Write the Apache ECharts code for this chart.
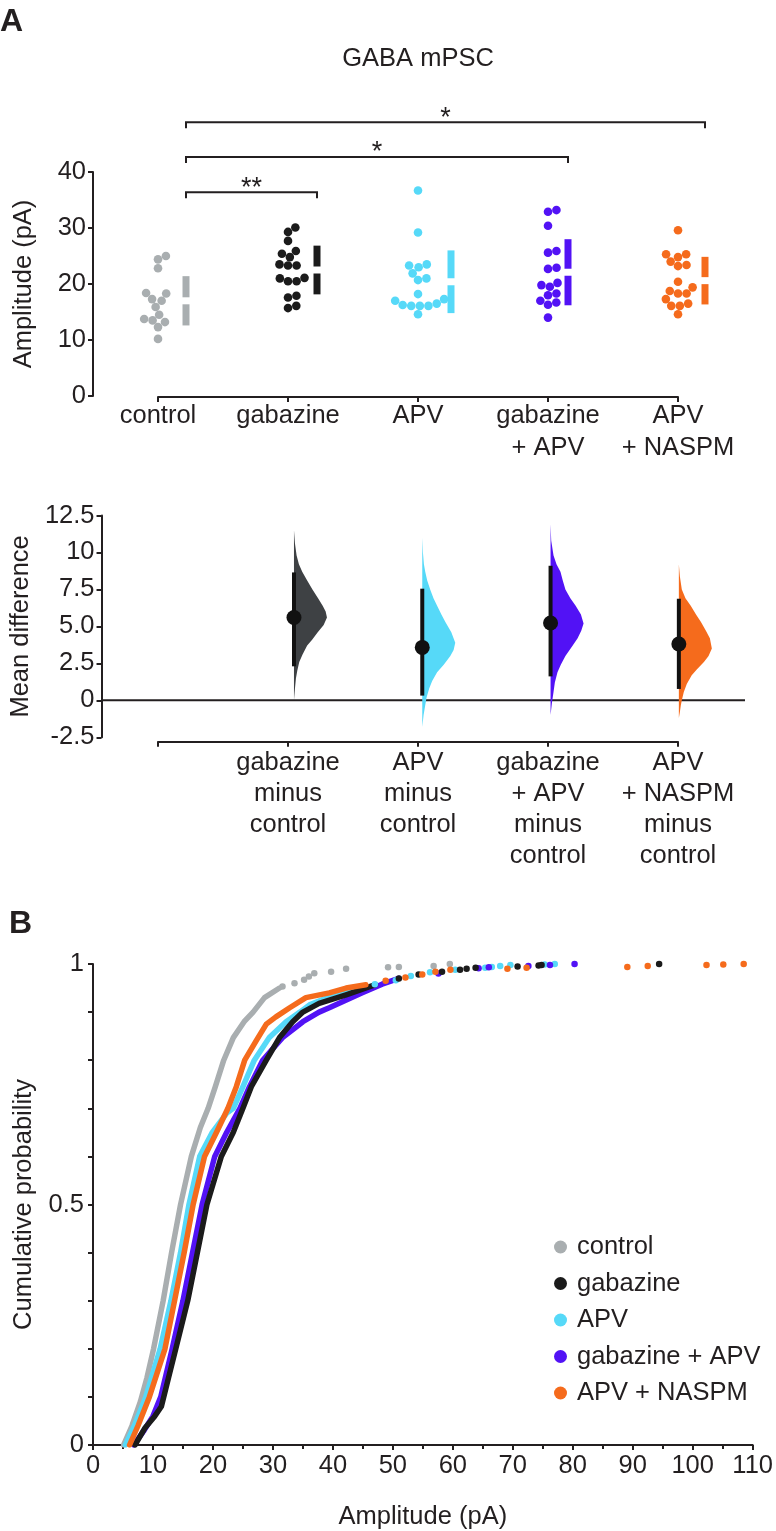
<!DOCTYPE html>
<html><head><meta charset="utf-8">
<script src="https://cdn.jsdelivr.net/npm/echarts@6/dist/echarts.min.js"></script>
<style>html,body{margin:0;padding:0;background:#fff}#c{width:776px;height:1531px}</style>
</head><body><div id="c"></div>
<script>
// ---------------- DATA ----------------
const groups = ['control','gabazine','APV','gabazine + APV','APV + NASPM'];
const groupAxisLabels = ['control','gabazine','APV','gabazine\n+ APV','APV\n+ NASPM'];
const diffAxisLabels = ['','gabazine\nminus\ncontrol','APV\nminus\ncontrol','gabazine\n+ APV\nminus\ncontrol','APV\n+ NASPM\nminus\ncontrol'];

// Panel A: mPSC amplitude per cell (pA)
const ampControl   = [25.0,24.4,22.8,18.3,18.4,17.0,17.3,15.9,14.5,13.2,13.5,13.75,12.3,10.2];
const ampGabazine  = [30.1,29.3,27.7,25.4,25.9,24.8,23.3,23.3,23.5,20.5,20.5,21.0,21.1,17.9,17.6,16.1,15.7];
const ampAPV       = [36.7,29.2,23.3,23.0,23.5,21.9,21.0,20.7,18.2,17.3,16.5,16.1,16.1,16.1,16.25,17.0,14.6];
const ampGabAPV    = [33.2,32.9,30.4,25.9,25.6,22.9,22.7,19.8,19.5,20.2,18.3,18.0,16.7,16.3,17.0,14.0];
const ampAPVNASPM  = [29.6,25.3,24.8,25.3,23.4,23.2,24.0,20.4,19.4,18.3,18.3,18.75,17.3,16.5,16.1,16.1,14.6];
const groupMeans = [17.0, 22.5, 20.4, 22.1, 20.6];
const groupSDs   = [4.4, 4.35, 5.6, 5.9, 4.25];
const sigPairs = [[0,1],[0,3],[0,4]];
const sigStars = ['**','*','*'];

// Panel A lower: mean difference vs control
const diffMeans  = [5.6, 3.58, 5.23, 3.81];
const diffCILow  = [2.3, 0.32, 1.62, 0.77];
const diffCIHigh = [8.65, 7.55, 9.1, 6.87];
const diffTickLabels = ['-2.5','0','2.5','5.0','7.5','10','12.5'];
// bootstrap density outlines: [mean difference, relative width]
const densGabazine = [[11.5,0],[10.6,0.03],[9.8,0.08],[9.2,0.15],[8.7,0.25],[8.1,0.4],[7.5,0.56],[6.9,0.73],[6.4,0.87],[6.0,0.96],[5.6,1.0],[5.1,0.9],[4.6,0.72],[4.1,0.55],[3.7,0.4],[3.1,0.26],[2.6,0.16],[2.0,0.1],[1.5,0.06],[0.8,0.03],[0,0]];
const densAPV = [[11.0,0],[10.0,0.02],[9.2,0.05],[8.7,0.09],[8.1,0.15],[7.5,0.24],[6.9,0.34],[6.4,0.45],[5.8,0.58],[5.3,0.7],[4.6,0.88],[3.9,1.0],[3.4,0.95],[3.0,0.85],[2.4,0.65],[1.9,0.45],[1.3,0.3],[0.8,0.21],[0.2,0.13],[-0.34,0.09],[-1.0,0.04],[-1.8,0]];
const densGabAPV = [[11.9,0],[10.8,0.02],[9.8,0.09],[9.2,0.18],[8.7,0.3],[8.1,0.37],[7.5,0.45],[6.9,0.6],[6.4,0.76],[5.8,0.92],[5.2,1.0],[4.7,0.93],[4.2,0.82],[3.6,0.64],[3.0,0.45],[2.4,0.31],[1.9,0.21],[1.2,0.13],[0.56,0.09],[-0.2,0.04],[-1.0,0]];
const densAPVNASPM = [[9.2,0],[8.4,0.03],[7.5,0.09],[6.9,0.2],[6.4,0.36],[5.8,0.52],[5.3,0.67],[4.7,0.82],[4.2,0.94],[3.5,1.0],[3.0,0.9],[2.6,0.76],[2.1,0.55],[1.7,0.39],[1.1,0.24],[0.56,0.15],[0,0.09],[-0.34,0.06],[-0.8,0.03],[-1.2,0]];

// Panel B: cumulative probability of event amplitudes [pA, P]
const cdfControl = [[5.1,0],[6.5,0.04],[7.9,0.09],[9.0,0.14],[10.1,0.2],[11.7,0.3],[13.1,0.4],[14.6,0.5],[16.4,0.6],[17.9,0.66],[19.2,0.7],[20.4,0.745],[21.8,0.8],[23.4,0.847],[25.2,0.88],[26.7,0.9],[28.6,0.93],[31.1,0.95]];
const cdfControlTail = [[31.6,0.953],[33.6,0.96],[35.2,0.967],[36.0,0.974],[36.9,0.981],[39.7,0.984],[42.2,0.99],[49.2,0.993],[51.0,0.994],[56.8,0.996],[59.5,1.0]];
const cdfGabazine = [[7.0,0],[8.7,0.036],[10.3,0.06],[11.4,0.08],[12.6,0.14],[13.8,0.2],[15.8,0.3],[17.4,0.4],[19.0,0.5],[21.4,0.6],[23.4,0.65],[25.0,0.7],[26.4,0.745],[28.9,0.8],[31.1,0.847],[33.3,0.88],[35.0,0.9],[37.7,0.918],[42.2,0.936],[47.1,0.957]];
const cdfGabazineTail = [[51.0,0.97],[54.3,0.978],[58.2,0.984],[61.2,0.988],[62.3,0.99],[63.8,0.992],[70.8,0.995],[74.3,0.997],[74.8,0.998],[94.4,1.0]];
const cdfAPV = [[5.4,0],[6.9,0.04],[8.8,0.1],[11.2,0.2],[13.0,0.3],[14.6,0.4],[16.0,0.5],[17.8,0.6],[19.9,0.65],[22.3,0.69],[23.4,0.7],[25.0,0.745],[26.9,0.8],[29.4,0.847],[32.2,0.88],[34.5,0.9],[36.1,0.915],[38.3,0.926],[43.8,0.95]];
const cdfAPVTail = [[47.0,0.958],[50.5,0.966],[53.0,0.975],[56.2,0.983],[60.4,0.988],[65.4,0.992],[66.5,0.994],[67.9,0.996],[69.6,0.998],[75.3,0.999],[77.0,1.0]];
const cdfGabAPV = [[6.8,0],[8.5,0.03],[10.0,0.06],[11.3,0.1],[13.2,0.2],[15.0,0.3],[16.6,0.4],[18.2,0.5],[20.3,0.6],[22.3,0.65],[24.5,0.7],[26.1,0.745],[28.3,0.8],[31.6,0.847],[35.0,0.88],[37.7,0.9],[39.4,0.909],[44.9,0.94],[48.2,0.958],[51.0,0.97]];
const cdfGabAPVTail = [[57.6,0.98],[64.3,0.991],[66.0,0.993],[72.6,0.996],[76.2,0.998],[80.3,1.0]];
const cdfAPVNASPM = [[6.1,0],[7.5,0.04],[9.4,0.1],[12.0,0.2],[13.6,0.3],[15.2,0.4],[16.7,0.5],[18.6,0.6],[20.6,0.65],[22.5,0.7],[23.9,0.745],[25.3,0.8],[27.2,0.84],[28.9,0.875],[30.5,0.89],[32.8,0.909],[35.5,0.93],[39.4,0.94],[42.2,0.95],[45.5,0.957]];
const cdfAPVNASPMTail = [[48.8,0.965],[52.1,0.972],[54.9,0.978],[57.1,0.984],[59.6,0.988],[69.1,0.99],[72.3,0.992],[89.1,0.994],[92.5,0.996],[102.3,0.998],[105.1,0.999],[108.5,1.0]];
const cdfYTickLabels = ['0','','','','','0.5','','','','','1'];

// ---------------- LAYOUT / STYLE ----------------
const FONT = '"Liberation Sans", Arial, Helvetica, sans-serif';
const FS = 25.5;
const TXT = '#231f20';
const colors = ['#a9aeb0','#1b1b1b','#56d9f8','#5212f5','#f56b1c'];
const violinColors = ['#3e4144','#56d9f8','#5212f5','#f56b1c'];
const barOffsetPx = [28, 29, 33, 20, 27];
const sigLevels = [36.4, 42.7, 48.9];
const violinPeakPx = 33;
const dotDiam = 8.6;

const ampGroups = [ampControl, ampGabazine, ampAPV, ampGabAPV, ampAPVNASPM];
const dens = [densGabazine, densAPV, densGabAPV, densAPVNASPM];
const cdfCurves = [cdfControl, cdfGabazine, cdfAPV, cdfGabAPV, cdfAPVNASPM];
const cdfTails = [cdfControlTail, cdfGabazineTail, cdfAPVTail, cdfGabAPVTail, cdfAPVNASPMTail];

// beeswarm offsets (px) computed from values and dot size
function swarm(values, diam, pxPerUnit) {
  const order = values.map((v,i)=>i).sort((a,b)=>values[a]-values[b]);
  const placed = []; const offs = new Array(values.length).fill(0);
  for (const i of order) {
    const y = values[i]*pxPerUnit;
    const forb = [];
    for (const p of placed) {
      const dy = Math.abs(p.y - y);
      if (dy < diam) { const dx = Math.sqrt(diam*diam - dy*dy); forb.push([p.x-dx, p.x+dx]); }
    }
    const cands = [0]; forb.forEach(f=>cands.push(f[0], f[1]));
    cands.sort((a,b)=>Math.abs(a)-Math.abs(b) || b-a);
    let x = 0;
    for (const c of cands) { if (forb.every(f => c <= f[0]+1e-6 || c >= f[1]-1e-6)) { x = c; break; } }
    placed.push({x, y}); offs[i] = x;
  }
  return offs;
}

const chart = echarts.init(document.getElementById('c'), null, {renderer:'canvas'});
const axisLine = {show:true, onZero:false, lineStyle:{color:TXT, width:2}};
const axisTickOut = {show:true, inside:false, length:5, lineStyle:{color:TXT, width:2}};
const labelStyle = {color:TXT, fontSize:FS, fontFamily:FONT};

const series = [];
// Panel A dots
ampGroups.forEach((vals, gi) => {
  const offs = swarm(vals, dotDiam, 5.6);
  series.push({type:'scatter', xAxisIndex:0, yAxisIndex:0, symbolSize:dotDiam, silent:true,
    itemStyle:{color:colors[gi], opacity:1},
    data: vals.map((v,k)=>[gi + offs[k]/130, v])});
});
// Panel A gapped mean ± SD bars
series.push({type:'custom', xAxisIndex:0, yAxisIndex:0, silent:true,
  data: groupMeans.map((m,i)=>[i, m]),
  renderItem(params, api){
    const i = params.dataIndex, m = groupMeans[i], s = groupSDs[i];
    const c = api.coord([i, m]); const x = c[0] + barOffsetPx[i];
    const top = api.coord([i, m+s])[1], bot = api.coord([i, m-s])[1];
    const gap = 3.5, w = 7;
    return {type:'group', children:[
      {type:'rect', shape:{x:x-w/2, y:top, width:w, height:c[1]-gap-top}, style:{fill:colors[i]}},
      {type:'rect', shape:{x:x-w/2, y:c[1]+gap, width:w, height:bot-c[1]-gap}, style:{fill:colors[i]}}
    ]};
  }});
// Significance brackets
series.push({type:'custom', xAxisIndex:0, yAxisIndex:0, silent:true, clip:false,
  data: sigPairs.map((p,k)=>[p[0], sigLevels[k]]),
  renderItem(params, api){
    const k = params.dataIndex, a = sigPairs[k][0], b = sigPairs[k][1], lvl = sigLevels[k];
    const pa = api.coord([a, lvl]);
    const xa = pa[0] + barOffsetPx[a], xb = api.coord([b, lvl])[0] + barOffsetPx[b], y = pa[1];
    return {type:'group', children:[
      {type:'polyline', shape:{points:[[xa,y+6],[xa,y],[xb,y],[xb,y+6]]}, style:{stroke:TXT, lineWidth:2, fill:null}},
      {type:'text', x:(xa+xb)/2, y:y-4, style:{text:sigStars[k], font:'27px '+FONT, fill:TXT, align:'center', verticalAlign:'middle'}}
    ]};
  }});
// Mean difference: zero line
series.push({type:'custom', xAxisIndex:2, yAxisIndex:2, silent:true, clip:false,
  data:[[0,0]],
  renderItem(params, api){
    const p0 = api.coord([-0.5, 0]), p1 = api.coord([4.5, 0]);
    return {type:'line', shape:{x1:p0[0], y1:p0[1], x2:p1[0]+2, y2:p1[1]}, style:{stroke:TXT, lineWidth:2}};
  }});
// Mean difference: half violins + CI + mean
series.push({type:'custom', xAxisIndex:2, yAxisIndex:2, silent:true, clip:false,
  data: diffMeans.map((m,k)=>[k+1, m]),
  renderItem(params, api){
    const k = params.dataIndex, gi = k+1;
    const bx = api.coord([gi, 0])[0];
    const pts = dens[k].map(([v,r]) => [bx + r*violinPeakPx, api.coord([gi, v])[1]]);
    const poly = pts.concat([[bx, pts[pts.length-1][1]], [bx, pts[0][1]]]);
    const lo = api.coord([gi, diffCILow[k]])[1], hi = api.coord([gi, diffCIHigh[k]])[1];
    const mc = api.coord([gi, diffMeans[k]]);
    return {type:'group', children:[
      {type:'polygon', shape:{points:poly}, style:{fill:violinColors[k]}},
      {type:'line', shape:{x1:bx, y1:lo, x2:bx, y2:hi}, style:{stroke:'#111', lineWidth:4}},
      {type:'circle', shape:{cx:mc[0], cy:mc[1], r:7.5}, style:{fill:'#111'}}
    ]};
  }});
// Panel B CDF curves (drawn in overlay order)
const drawOrder = [0, 2, 3, 1, 4];
drawOrder.forEach(gi => {
  series.push({type:'line', name:groups[gi], xAxisIndex:4, yAxisIndex:4, silent:true,
    showSymbol:false, symbol:'circle', data:cdfCurves[gi], z:2,
    lineStyle:{color:colors[gi], width:5.5, cap:'round', join:'round'}, itemStyle:{color:colors[gi]}});
  series.push({type:'scatter', name:groups[gi], xAxisIndex:4, yAxisIndex:4, silent:true,
    symbolSize:6.5, data:cdfTails[gi], z:2, itemStyle:{color:colors[gi], opacity:1}});
});

const option = {
  animation:false,
  backgroundColor:'#fff',
  textStyle:{fontFamily:FONT},
  title:[
    {text:'A', left:0, top:6, padding:0, textStyle:{fontSize:32, fontWeight:'bold', color:TXT, fontFamily:FONT}},
    {text:'GABA mPSC', left:418, top:46, padding:0, textAlign:'center', textStyle:{fontSize:FS, fontWeight:'normal', color:TXT, fontFamily:FONT}},
    {text:'B', left:9, top:908, padding:0, textStyle:{fontSize:32, fontWeight:'bold', color:TXT, fontFamily:FONT}}
  ],
  legend:{orient:'vertical', left:549, top:1229, itemWidth:13, itemHeight:13, itemGap:10.5, icon:'circle',
    selectedMode:false, data:groups,
    textStyle:{fontSize:FS, color:TXT, fontFamily:FONT, padding:[0,0,0,5]}},
  grid:[
    {left:93, top:172, width:650, height:224},
    {left:158, top:172, width:520, height:225},
    {left:93, top:515.5, width:650, height:221.8},
    {left:158, top:516, width:520, height:225.7},
    {left:93, top:964, width:663, height:486.7}
  ],
  xAxis:[
    {gridIndex:0, type:'value', min:-0.5, max:4.5, show:false},
    {gridIndex:1, type:'value', min:0, max:4, interval:1, axisLine:axisLine, axisTick:axisTickOut, splitLine:{show:false},
      axisLabel:{...labelStyle, margin:3, lineHeight:32, formatter:v=>groupAxisLabels[Math.round(v)]}},
    {gridIndex:2, type:'value', min:-0.5, max:4.5, show:false},
    {gridIndex:3, type:'value', min:0, max:4, interval:1, axisLine:axisLine, axisTick:axisTickOut, splitLine:{show:false},
      axisLabel:{...labelStyle, margin:6, lineHeight:31, formatter:v=>diffAxisLabels[Math.round(v)]}},
    {gridIndex:4, type:'value', min:0, max:110, interval:10, axisLine:axisLine, axisTick:axisTickOut, splitLine:{show:false},
      minorTick:{show:true, splitNumber:2, length:4, lineStyle:{color:TXT, width:2}}, minorSplitLine:{show:false},
      axisLabel:{...labelStyle, margin:8},
      name:'Amplitude (pA)', nameLocation:'middle', nameGap:59, nameTextStyle:{...labelStyle}}
  ],
  yAxis:[
    {gridIndex:0, type:'value', min:0, max:40, interval:10, axisLine:axisLine, axisTick:axisTickOut, splitLine:{show:false},
      axisLabel:{...labelStyle, margin:7},
      name:'Amplitude (pA)', nameLocation:'middle', nameGap:56, nameTextStyle:{...labelStyle}},
    {gridIndex:1, type:'value', min:0, max:1, show:false},
    {gridIndex:2, type:'value', min:-2.5, max:12.5, interval:2.5, axisLine:axisLine, axisTick:axisTickOut, splitLine:{show:false},
      axisLabel:{...labelStyle, margin:7, formatter:v=>diffTickLabels[Math.round((v+2.5)/2.5)]},
      name:'Mean difference', nameLocation:'middle', nameGap:58, nameTextStyle:{...labelStyle}},
    {gridIndex:3, type:'value', min:0, max:1, show:false},
    {gridIndex:4, type:'value', min:0, max:1, interval:0.1, axisLine:axisLine, axisTick:axisTickOut, splitLine:{show:false},
      axisLabel:{...labelStyle, margin:9, formatter:v=>cdfYTickLabels[Math.round(v*10)]},
      name:'Cumulative probability', nameLocation:'middle', nameGap:56, nameTextStyle:{...labelStyle}}
  ],
  series
};
chart.setOption(option);
</script>
</body></html>
